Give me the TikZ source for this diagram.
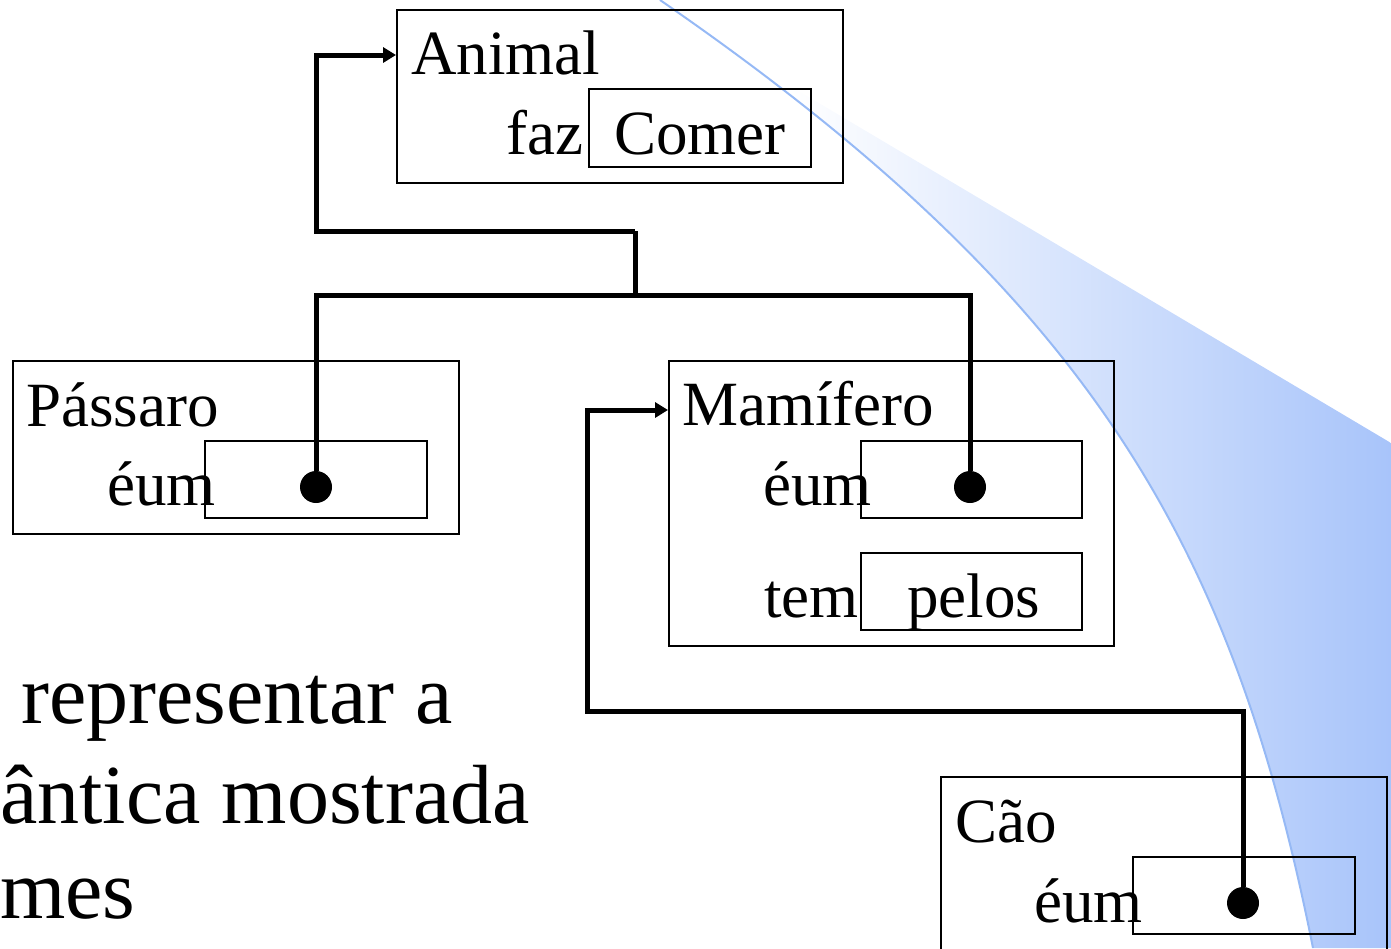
\documentclass[tikz,border=0pt]{standalone}
\usepackage{fontspec}
\setmainfont{Liberation Serif}
\usetikzlibrary{arrows.meta}

\definecolor{swoosh}{RGB}{168,196,250}
\definecolor{swooshline}{RGB}{150,185,245}

\tikzset{
  frame/.style={draw, line width=2pt, inner sep=0pt, anchor=north west},
  slot/.style={draw, line width=2pt, inner sep=0pt, anchor=north west},
  lbl/.style={inner sep=0pt, anchor=base west, font=\fontsize{63}{75}\selectfont},
  bodytext/.style={inner sep=0pt, anchor=base west, font=\fontsize{84}{100}\selectfont},
  link/.style={line width=5pt},
  isa/.style={link, -{Triangle[length=13pt,width=15pt]}},
  knob/.style={circle, fill, inner sep=0pt, minimum size=32pt},
}

\begin{document}
\begin{tikzpicture}[x=1pt, y=-1pt]
  \useasboundingbox (0,0) rectangle (1391,948);
  \clip (0,0) rectangle (1391,948);

  % decorative swoosh in the background
  \begin{scope}
    \clip (660,0) .. controls (1095,300) and (1233,548) .. (1313,948)
          -- (1391,948) -- (1391,0) -- cycle;
    \clip (600,-27) -- (1391,443) -- (1391,948) -- (600,948) -- cycle;
    \shade[left color=white, right color=swoosh] (790,0) rectangle (1391,948);
  \end{scope}
  \draw[swooshline, line width=2pt]
    (660,0) .. controls (1095,300) and (1233,548) .. (1313,948);

  % frames and slots
  \node[frame, minimum width=446pt, minimum height=173pt] (animal) at (396,9) {};
  \node[slot, minimum width=222pt, minimum height=78pt] (comer) at (588,88) {};

  \node[frame, minimum width=446pt, minimum height=173pt] (passaro) at (12,360) {};
  \node[slot, minimum width=222pt, minimum height=77pt] (passaroIsa) at (204,440) {};

  \node[frame, minimum width=445pt, minimum height=285pt] (mamifero) at (668,360) {};
  \node[slot, minimum width=221pt, minimum height=77pt] (mamiferoIsa) at (860,440) {};
  \node[slot, minimum width=221pt, minimum height=77pt] (pelos) at (860,552) {};

  \node[frame, minimum width=446pt, minimum height=220pt] (cao) at (940,776) {};
  \node[slot, minimum width=222pt, minimum height=77pt] (caoIsa) at (1132,856) {};

  % pointer dots
  \node[knob] (dotP) at (316,487) {};
  \node[knob] (dotM) at (970,487) {};
  \node[knob] (dotC) at (1243,903) {};

  % junctions of the links
  \coordinate (j0) at (316,55);
  \coordinate (j1) at (316,231);
  \coordinate (j2) at (635,231);
  \coordinate (j3) at (635,295);
  \coordinate (bl) at (316,295);
  \coordinate (br) at (970,295);
  \coordinate (c1) at (1243,711);
  \coordinate (c2) at (587,711);
  \coordinate (c3) at (587,410);

  % links
  \draw[isa] (j2) -- (j1) -- (j0) -- (animal.west |- j0);
  \draw[link] (j2) -- (j3);
  \draw[link] (dotP) -- (bl) -- (br) -- (dotM);
  \draw[isa] (dotC) -- (c1) -- (c2) -- (c3) -- (mamifero.west |- c3);

  % labels
  \node[lbl] (tAnimal) at (411,74) {Animal};
  \node[lbl] (tFaz) at (506,154) {faz};
  \node[lbl] (tComer) at (614,154) {Comer};

  \node[lbl] (tPassaro) at (26,426) {Pássaro};
  \node[lbl] (tEumP) at (107,505) {éum};

  \node[lbl] (tMamifero) at (682,425) {Mamífero};
  \node[lbl] (tEumM) at (763,505) {éum};
  \node[lbl] (tTem) at (764,617) {tem};
  \node[lbl] (tPelos) at (907,617) {pelos};

  \node[lbl] (tCao) at (955,842) {Cão};
  \node[lbl] (tEumC) at (1034,922) {éum};

  % running text
  \node[bodytext] (line1) at (21,723) {representar a};
  \node[bodytext] (line2) at (0,823) {ântica mostrada};
  \node[bodytext] (line3) at (0,918) {mes};
\end{tikzpicture}
\end{document}
